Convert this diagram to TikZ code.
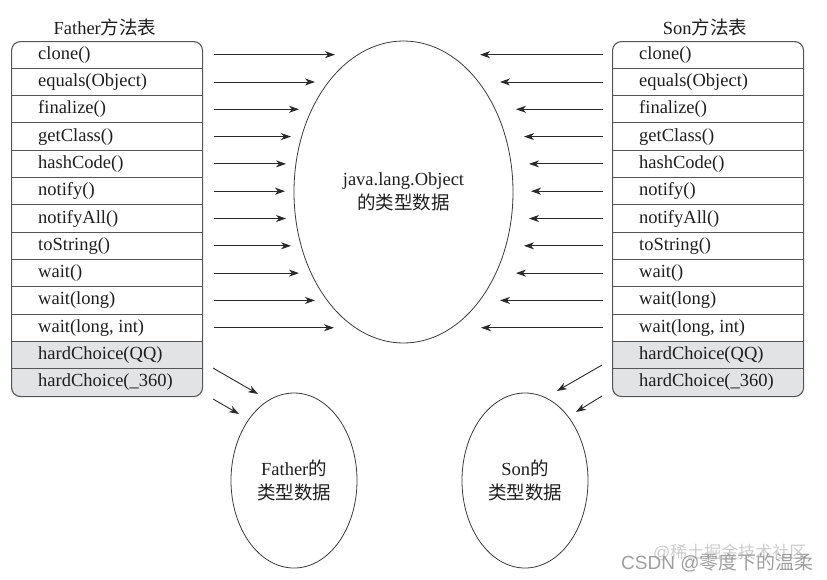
\documentclass[tikz,border=0pt]{standalone}
\usepackage{fontspec}
\setmainfont{Liberation Serif}
\setsansfont{Liberation Sans}
\newfontfamily\cjk{Noto Sans CJK SC}
\usetikzlibrary{shapes.geometric,arrows.meta}
\definecolor{framec}{HTML}{555555}
\definecolor{arrc}{HTML}{2A2A2A}
\definecolor{ellc}{HTML}{3A3A3A}
\definecolor{txtc}{HTML}{1E1E1E}
\definecolor{fillc}{HTML}{E1E3E5}
\begin{document}
\begin{tikzpicture}[x=1pt,y=-1pt,
  font=\fontsize{18.5}{23.5}\selectfont, text=txtc,
  tab/.style={draw=framec, line width=1.1pt, rounded corners=9pt, minimum width=191pt, minimum height=355pt, inner sep=0pt, anchor=north west},
  sepline/.style={draw=framec, line width=1.1pt},
  rowtxt/.style={anchor=west, inner sep=0pt, text height=13pt, text depth=4pt},
  titletxt/.style={inner sep=0pt},
  arr/.style={draw=arrc, line width=0.9pt, -{Stealth[length=10pt,width=7pt,inset=3pt]}},
  oval/.style={ellipse, draw=ellc, line width=0.8pt, inner sep=0pt, align=center},
  wm/.style={inner sep=0pt, font=\sffamily\fontsize{19}{19}\selectfont},
]
\useasboundingbox (0,0) rectangle (827,579);
\def\rh{27.308}

% ---------- left table ----------
\begin{scope}
  \clip (0,{41+11*\rh}) rectangle (220,420);
  \fill[fillc, rounded corners=9pt] (11,41) rectangle (202,396);
\end{scope}
\node[tab] (ftab) at (11,41) {};
\foreach \i in {1,...,12} \draw[sepline] (11,{41+\i*\rh}) -- (202,{41+\i*\rh});
\node[titletxt] (ftitle) at (105,27) {Father{\cjk 方法表}};

% ---------- right table ----------
\begin{scope}
  \clip (600,{41+11*\rh}) rectangle (827,420);
  \fill[fillc, rounded corners=9pt] (612,41) rectangle (803,396);
\end{scope}
\node[tab] (stab) at (612,41) {};
\foreach \i in {1,...,12} \draw[sepline] (612,{41+\i*\rh}) -- (803,{41+\i*\rh});
\node[titletxt] (stitle) at (705,27) {Son{\cjk 方法表}};

% ---------- row texts ----------
\foreach \t [count=\i] in {clone(), equals(Object), finalize(), getClass(), hashCode(), notify(), notifyAll(), toString(), wait(), wait(long), {wait(long, int)}, hardChoice(QQ), hardChoice(\_360)} {
  \node[rowtxt] (L\i) at (38,{41+(\i-0.5)*\rh}) {\t};
  \node[rowtxt] (R\i) at (639,{41+(\i-0.5)*\rh}) {\t};
}

% ---------- ellipses ----------
\node[oval, minimum width=219pt, minimum height=302pt] (obj) at (403.5,192) {java.lang.Object\\{\cjk 的类型数据}};
\node[oval, minimum width=126pt, minimum height=175pt] (fdata) at (294,480.5) {Father{\cjk 的}\\{\cjk 类型数据}};
\node[oval, minimum width=126pt, minimum height=175pt] (sdata) at (525,480.5) {Son{\cjk 的}\\{\cjk 类型数据}};

% ---------- horizontal arrows ----------
\foreach \e [count=\i] in {335,315,299,291,286,285,286,291,299,315,334} {
  \coordinate (le\i) at (\e,{41+(\i-0.5)*\rh});
  \draw[arr, shorten <=11pt] (L\i -| ftab.east) -- (le\i);
}
\foreach \e [count=\i] in {480,500,516,524,529,531,529,524,516,500,481} {
  \coordinate (re\i) at (\e,{41+(\i-0.5)*\rh});
  \draw[arr, shorten <=9pt] (R\i -| stab.west) -- (re\i);
}

% ---------- slanted arrows ----------
\coordinate (ls1) at (213,368);
\coordinate (le12) at (258,394);
\coordinate (ls2) at (213,399);
\coordinate (le13) at (239,414);
\draw[arr] (ls1) -- (le12);
\draw[arr] (ls2) -- (le13);
\coordinate (rs1) at (602,365);
\coordinate (re12) at (557,391);
\coordinate (rs2) at (602,396);
\coordinate (re13) at (576,412);
\draw[arr] (rs1) -- (re12);
\draw[arr] (rs2) -- (re13);

% ---------- watermarks ----------
\node[wm, text=gray!40, anchor=west, font=\sffamily\fontsize{17}{17}\selectfont] (wm1) at (653,552) {@{\cjk 稀土掘金技术社区}};
\node[wm, text=gray!75, anchor=west] (wm2) at (621,563) {CSDN @{\cjk 零度下的温柔}};
\end{tikzpicture}
\end{document}
